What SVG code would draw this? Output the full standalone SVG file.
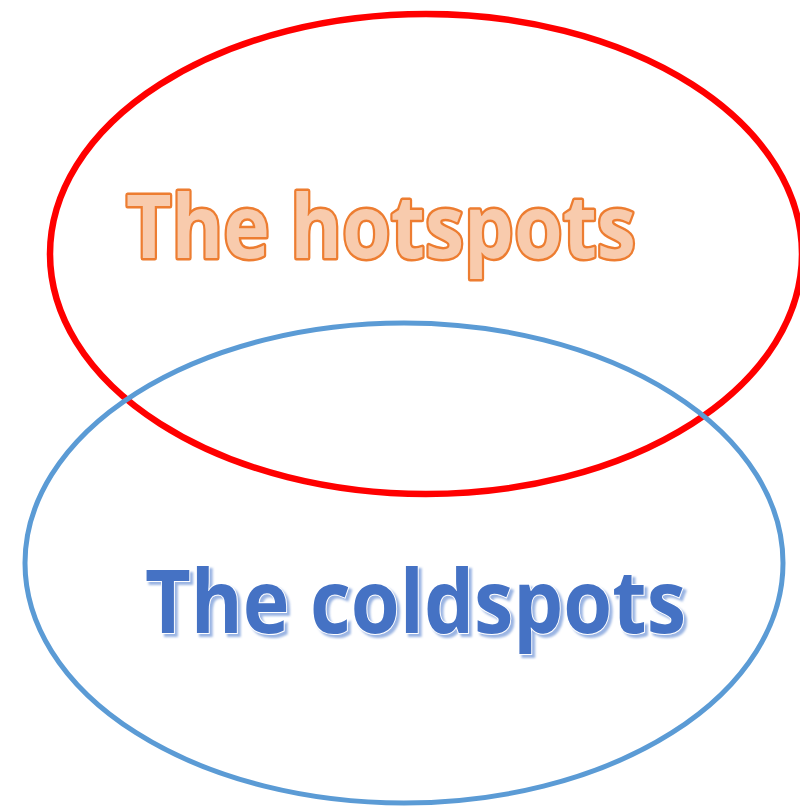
<svg xmlns="http://www.w3.org/2000/svg" width="800" height="807" viewBox="0 0 800 807">
<style>
.lbl{font-family:"Open Sans","Liberation Sans",sans-serif;font-size:88px;font-weight:700}
</style>
<defs>
<filter id="sh" x="-5%" y="-20%" width="115%" height="150%">
<feDropShadow dx="3" dy="3" stdDeviation="1" flood-color="#8FACE0" flood-opacity="0.9"/>
</filter>
</defs>
<rect width="800" height="807" fill="#fff"/>
<g id="hot">
<ellipse cx="426" cy="254" rx="376" ry="240" fill="none" stroke="#ff0000" stroke-width="6.5"/>
<text class="lbl" x="126" y="258" textLength="510" lengthAdjust="spacingAndGlyphs" fill="#F8CBAD" stroke="#ED7D31" stroke-width="5" stroke-linejoin="round" paint-order="stroke">The hotspots</text>
</g>
<g id="cold">
<ellipse cx="404" cy="563" rx="379" ry="240" fill="none" stroke="#5B9BD5" stroke-width="5"/>
<text class="lbl" x="145" y="633" textLength="541" lengthAdjust="spacingAndGlyphs" fill="#4472C4" stroke="#ffffff" stroke-width="2" paint-order="stroke" filter="url(#sh)">The coldspots</text>
</g>
</svg>
